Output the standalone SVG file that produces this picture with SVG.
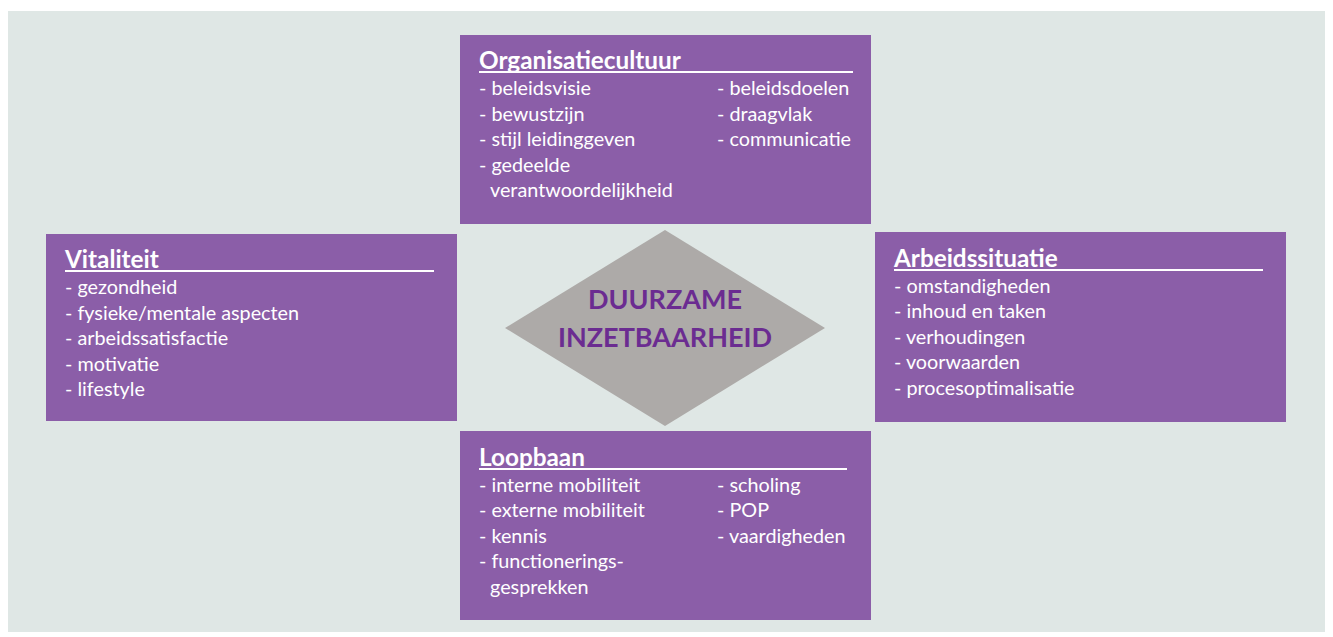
<svg xmlns="http://www.w3.org/2000/svg" width="1333" height="637" viewBox="0 0 1333 637">
<style>
.box{fill:#8b5ea8}
.t{font-family:Lato,"Open Sans","Liberation Sans",sans-serif;fill:#ffffff;font-size:19.8px}
.h{font-family:Lato,"Open Sans","Liberation Sans",sans-serif;fill:#ffffff;font-size:24.3px;font-weight:bold}
.ul{stroke:#ffffff;stroke-width:2}
.c{font-family:Lato,"Open Sans","Liberation Sans",sans-serif;fill:#6b2c91;font-size:27px;font-weight:bold;text-anchor:middle}
</style>
<rect x="0" y="0" width="1333" height="637" fill="#ffffff"/>
<rect x="8" y="11" width="1317" height="621" fill="#dfe7e5"/>
<g id="center">
<polygon points="665,230 825,328 665,426 505,328" fill="#adaaa8"/>
<text class="c" x="665" y="309">DUURZAME</text>
<text class="c" x="665" y="347">INZETBAARHEID</text>
</g>
<g id="organisatiecultuur">
<rect class="box" x="460" y="35" width="411" height="189"/>
<text class="h" x="479" y="69">Organisatiecultuur</text>
<line class="ul" x1="479" y1="72" x2="853" y2="72"/>
<text class="t" x="479" y="95">- beleidsvisie</text>
<text class="t" x="479" y="120.5">- bewustzijn</text>
<text class="t" x="479" y="146">- stijl leidinggeven</text>
<text class="t" x="479" y="171.5">- gedeelde</text>
<text class="t" x="490" y="197">verantwoordelijkheid</text>
<text class="t" x="717" y="95">- beleidsdoelen</text>
<text class="t" x="717" y="120.5">- draagvlak</text>
<text class="t" x="717" y="146">- communicatie</text>
</g>
<g id="vitaliteit">
<rect class="box" x="46" y="234" width="411" height="187"/>
<text class="h" x="65" y="268">Vitaliteit</text>
<line class="ul" x1="65" y1="271" x2="434" y2="271"/>
<text class="t" x="65" y="294">- gezondheid</text>
<text class="t" x="65" y="319.5">- fysieke/mentale aspecten</text>
<text class="t" x="65" y="345">- arbeidssatisfactie</text>
<text class="t" x="65" y="370.5">- motivatie</text>
<text class="t" x="65" y="396">- lifestyle</text>
</g>
<g id="arbeidssituatie">
<rect class="box" x="875" y="232" width="411" height="190"/>
<text class="h" x="894" y="267">Arbeidssituatie</text>
<line class="ul" x1="894" y1="270" x2="1263" y2="270"/>
<text class="t" x="894" y="292.5">- omstandigheden</text>
<text class="t" x="894" y="318">- inhoud en taken</text>
<text class="t" x="894" y="343.5">- verhoudingen</text>
<text class="t" x="894" y="369">- voorwaarden</text>
<text class="t" x="894" y="394.5">- procesoptimalisatie</text>
</g>
<g id="loopbaan">
<rect class="box" x="460" y="431" width="411" height="189"/>
<text class="h" x="479" y="466">Loopbaan</text>
<line class="ul" x1="479" y1="469" x2="847" y2="469"/>
<text class="t" x="479" y="491.5">- interne mobiliteit</text>
<text class="t" x="479" y="517">- externe mobiliteit</text>
<text class="t" x="479" y="542.5">- kennis</text>
<text class="t" x="479" y="568">- functionerings-</text>
<text class="t" x="490" y="593.5">gesprekken</text>
<text class="t" x="717" y="491.5">- scholing</text>
<text class="t" x="717" y="517">- POP</text>
<text class="t" x="717" y="542.5">- vaardigheden</text>
</g>
<g id="connectors"></g>
</svg>
